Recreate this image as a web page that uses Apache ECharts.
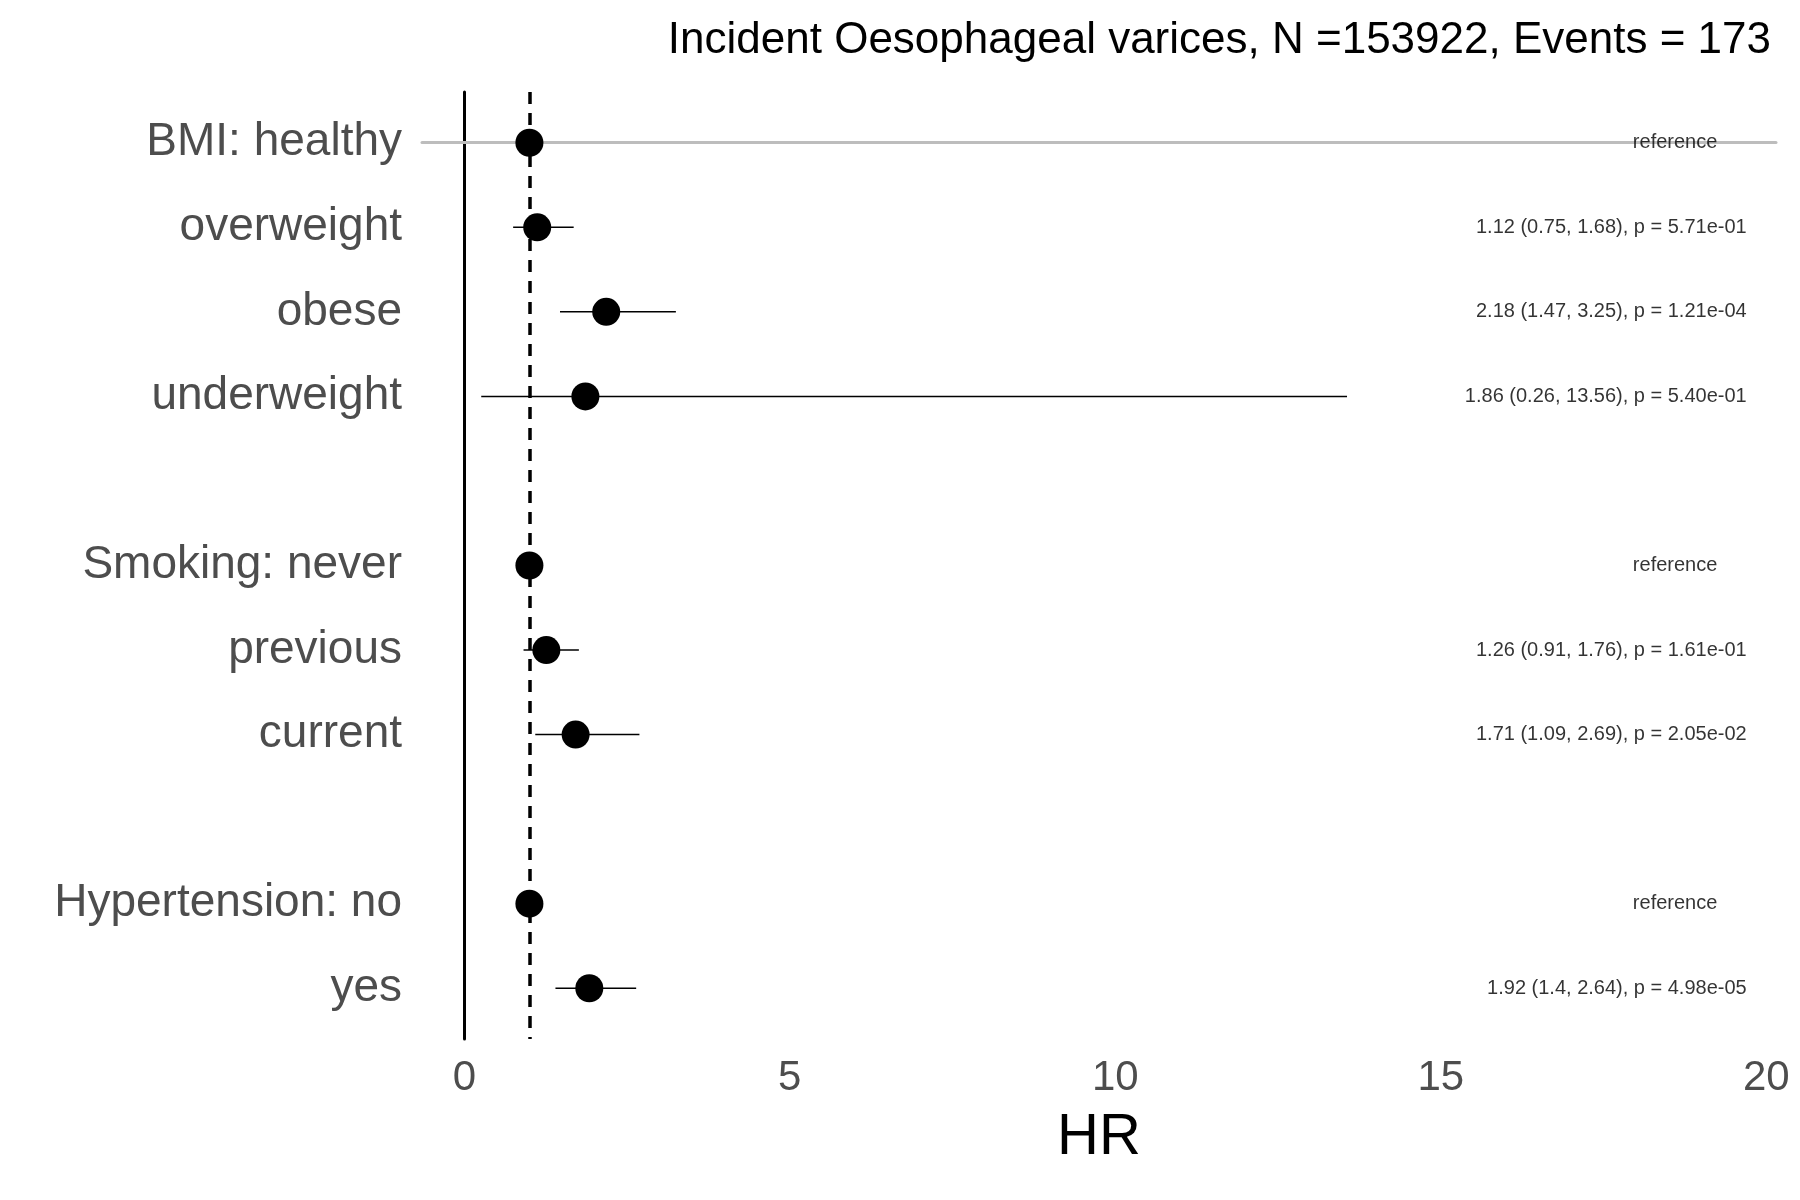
<!DOCTYPE html>
<html><head><meta charset="utf-8">
<script src="https://cdn.jsdelivr.net/npm/echarts@6/dist/echarts.min.js"></script>
<style>html,body{margin:0;background:#fff}#c{width:1800px;height:1200px}</style>
</head><body><div id="c"></div>
<script>
var labels = ['BMI: healthy', 'overweight', 'obese', 'underweight', 'Smoking: never', 'previous', 'current', 'Hypertension: no', 'yes'];
var rows = [0, 1, 2, 3, 5, 6, 7, 9, 10];
var est = [1, 1.12, 2.18, 1.86, 1, 1.26, 1.71, 1, 1.92];
var lo = [null, 0.75, 1.47, 0.26, null, 0.91, 1.09, null, 1.4];
var hi = [null, 1.68, 3.25, 13.56, null, 1.76, 2.69, null, 2.64];
var notes = ['reference', '1.12 (0.75, 1.68), p = 5.71e-01', '2.18 (1.47, 3.25), p = 1.21e-04', '1.86 (0.26, 13.56), p = 5.40e-01',
  'reference', '1.26 (0.91, 1.76), p = 1.61e-01', '1.71 (1.09, 2.69), p = 2.05e-02', 'reference', '1.92 (1.4, 2.64), p = 4.98e-05'];
var xTicks = [0, 5, 10, 15, 20];

var chart = echarts.init(document.getElementById('c'));
var ci = [], pts = [], txt = [];
for (var i = 0; i < rows.length; i++) {
  if (lo[i] != null) ci.push([lo[i], hi[i], rows[i]]);
  pts.push([est[i], rows[i]]);
  var ref = notes[i] === 'reference';
  txt.push({value: [ref ? 18.6 : 19.7, rows[i]], label: {align: ref ? 'center' : 'right'}});
}
chart.setOption({
  animation: false,
  title: {text: 'Incident Oesophageal varices, N =153922, Events = 173', right: 24, top: 14,
    textStyle: {fontFamily: 'Liberation Sans', fontWeight: 'normal', fontSize: 44, color: '#000'}},
  grid: {left: 422, right: 24, top: 92, bottom: 161},
  xAxis: {type: 'value', min: -0.65, max: 20.15, name: 'HR', nameLocation: 'middle', nameGap: 70,
    nameTextStyle: {fontFamily: 'Liberation Sans', fontSize: 58, color: '#000'},
    axisLine: {show: true, lineStyle: {color: '#bdbdbd', width: 3}}, axisTick: {show: false}, splitLine: {show: false},
    axisLabel: {customValues: xTicks, fontFamily: 'Liberation Sans', fontSize: 42, color: '#4d4d4d', margin: 18}},
  yAxis: {type: 'value', inverse: true, min: -0.6, max: 10.6,
    axisLine: {show: true, lineStyle: {color: '#000', width: 3}}, axisTick: {show: false}, splitLine: {show: false},
    axisLabel: {customValues: rows, fontFamily: 'Liberation Sans', fontSize: 46, color: '#4d4d4d', margin: 20,
      formatter: function (v) { return labels[rows.indexOf(v)] || ''; }}},
  series: [
    {type: 'custom', data: ci, z: 2,
      renderItem: function (params, api) {
        var a = api.coord([api.value(0), api.value(2)]), b = api.coord([api.value(1), api.value(2)]);
        return {type: 'line', shape: {x1: a[0], y1: a[1], x2: b[0], y2: b[1]}, style: {stroke: '#000', lineWidth: 1.5}};
      }},
    {type: 'scatter', data: pts, symbolSize: 28, itemStyle: {color: '#000', opacity: 1}, z: 3,
      markLine: {silent: true, symbol: 'none', label: {show: false},
        lineStyle: {color: '#000', type: [12, 9], width: 3.5}, data: [{xAxis: 1}]}},
    {type: 'scatter', data: txt, symbolSize: 0, z: 4,
      label: {show: true, position: 'inside', formatter: function (p) { return notes[p.dataIndex]; },
        fontFamily: 'Liberation Sans', fontSize: 20, color: '#000'}}
  ]
});
</script></body></html>
